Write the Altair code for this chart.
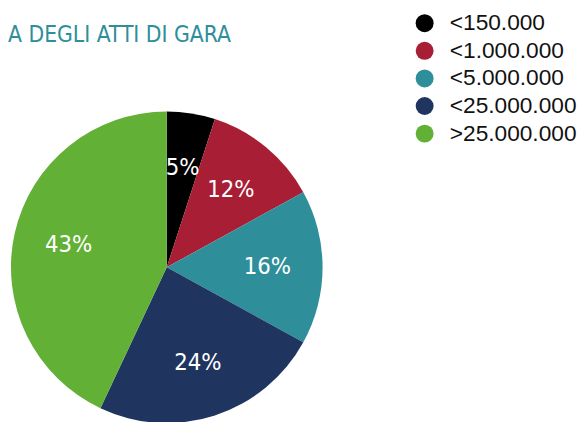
import altair as alt
import pandas as pd

categories = ["<150.000", "<1.000.000", "<5.000.000", "<25.000.000", ">25.000.000"]
values = [5, 12, 16, 24, 43]
labels = ["5%", "12%", "16%", "24%", "43%"]
colors = ["#000000", "#a81f35", "#2e8f9a", "#1f355f", "#62b035"]
title_text = "A DEGLI ATTI DI GARA"

df = pd.DataFrame({
    "cat": categories,
    "value": values,
    "label": labels,
    "order": list(range(len(categories))),
})

COND = "Liberation Sans Narrow, DejaVu Sans Condensed, sans-serif"

base = alt.Chart(df).encode(
    theta=alt.Theta("value:Q", stack=True),
    order=alt.Order("order:Q"),
    x=alt.value(161),
    y=alt.value(260),
)

pie = base.mark_arc(radius=158, stroke=None).encode(
    color=alt.Color(
        "cat:N",
        scale=alt.Scale(domain=categories, range=colors),
        sort=categories,
        legend=alt.Legend(
            title=None,
            orient="none",
            legendX=411,
            legendY=1,
            symbolType="circle",
            symbolSize=330,
            symbolStrokeWidth=0,
            labelFont="Liberation Sans",
            labelFontSize=23,
            labelColor="#111111",
            labelOffset=14,
            rowPadding=4,
            padding=0,
            labelLimit=300,
        ),
    )
)

text = base.mark_text(
    radius=102,
    font=COND,
    fontSize=24,
    fontWeight=300,
    color="white",
    baseline="middle",
    align="center",
).encode(text="label:N")

title = alt.Chart(pd.DataFrame({"t": [title_text]})).mark_text(
    font=COND,
    fontSize=23,
    color="#2e8f9a",
    align="left",
    baseline="middle",
).encode(text="t:N", x=alt.value(0), y=alt.value(25))

chart = alt.layer(pie, text, title).properties(
    width=577,
    height=414,
    padding=0,
    autosize=alt.AutoSizeParams(type="none"),
).configure_view(stroke=None)

chart.save("out.html", embed_options={"renderer": "svg", "actions": False})
